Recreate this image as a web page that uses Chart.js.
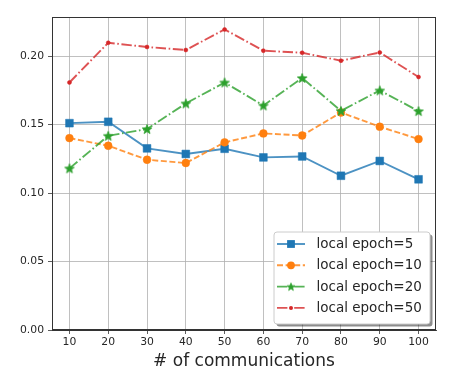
<!DOCTYPE html>
<html>
<head>
<meta charset="utf-8">
<script src="https://cdn.jsdelivr.net/npm/chart.js@4.4.0/dist/chart.umd.min.js"></script>
<style>
html,body{margin:0;padding:0;background:#fff;}
canvas{display:block;}
</style>
</head>
<body>
<canvas id="c" width="453" height="389"></canvas>
<script>
const communications = [10, 20, 30, 40, 50, 60, 70, 80, 90, 100];
const epoch5  = [0.151, 0.152, 0.1326, 0.1285, 0.1323, 0.126, 0.1267, 0.1126, 0.1234, 0.110];
const epoch10 = [0.1401, 0.1345, 0.1243, 0.1219, 0.137, 0.1435, 0.142, 0.1588, 0.1484, 0.1394];
const epoch20 = [0.118, 0.1418, 0.1467, 0.1654, 0.1807, 0.1639, 0.184, 0.160, 0.1749, 0.1598];
const epoch50 = [0.1807, 0.2097, 0.2066, 0.2044, 0.2194, 0.2039, 0.2024, 0.1966, 0.2026, 0.1847];
const seriesLabels = ['local epoch=5', 'local epoch=10', 'local epoch=20', 'local epoch=50'];
const xTicks = [10, 20, 30, 40, 50, 60, 70, 80, 90, 100];
const yTicks = [0.00, 0.05, 0.10, 0.15, 0.20];

const colors = ['#1f77b4', '#ff7f0e', '#2ca02c', '#d62728'];
const lineColors = ['rgba(31,119,180,0.8)', 'rgba(255,127,14,0.8)', 'rgba(44,160,44,0.8)', 'rgba(214,39,40,0.8)'];
const dashes = [[], [6, 2.6], [10.4, 2.6, 1.6, 2.6], [10.4, 2.6, 1.6, 2.6]];

function makeStar(color, R, r) {
  const c = document.createElement('canvas');
  const sz = Math.ceil(R * 2 + 2);
  c.width = sz; c.height = sz;
  const g = c.getContext('2d');
  const cx = sz / 2, cy = sz / 2 + R * 0.1;
  g.beginPath();
  for (let i = 0; i < 10; i++) {
    const a = -Math.PI / 2 + i * Math.PI / 5;
    const rad = i % 2 === 0 ? R : r;
    const px = cx + rad * Math.cos(a), py = cy + rad * Math.sin(a);
    if (i === 0) g.moveTo(px, py); else g.lineTo(px, py);
  }
  g.closePath();
  g.fillStyle = color; g.fill();
  g.strokeStyle = color; g.lineWidth = 0.8; g.stroke();
  return c;
}
const starImg = makeStar(colors[2], 5, 2.1);
const starLegend = makeStar(colors[2], 4, 1.7);

const pointStyles = ['rect', 'circle', starImg, 'circle'];
const pointRadii = [5.5, 3.9, 5, 2];
const allData = [epoch5, epoch10, epoch20, epoch50];

const datasets = allData.map((vals, i) => ({
  label: seriesLabels[i],
  data: vals.map((v, k) => ({x: communications[k], y: v})),
  borderColor: lineColors[i],
  borderWidth: 1.9,
  borderDash: dashes[i],
  backgroundColor: colors[i],
  pointBackgroundColor: colors[i],
  pointBorderColor: colors[i],
  pointBorderWidth: 0.5,
  pointStyle: pointStyles[i],
  pointRadius: pointRadii[i],
  pointHoverRadius: pointRadii[i],
  tension: 0,
  fill: false,
  order: 4 - i
}));

const framePlugin = {
  id: 'frameAndLegend',
  afterDraw(chart) {
    const ctx = chart.ctx;
    const a = chart.chartArea;
    ctx.save();
    ctx.strokeStyle = '#333333';
    ctx.lineWidth = 1;
    ctx.strokeRect(Math.round(a.left) + 0.5, Math.round(a.top) + 0.5, Math.round(a.right - a.left) - 1, Math.round(a.bottom - a.top) - 1);

    // legend
    const w = 156, h = 92;
    const x0 = a.right - 6 - w, y0 = a.bottom - 6 - h;
    const rr = 3;
    function rrect(x, y, ww, hh) {
      ctx.beginPath();
      ctx.moveTo(x + rr, y);
      ctx.lineTo(x + ww - rr, y); ctx.quadraticCurveTo(x + ww, y, x + ww, y + rr);
      ctx.lineTo(x + ww, y + hh - rr); ctx.quadraticCurveTo(x + ww, y + hh, x + ww - rr, y + hh);
      ctx.lineTo(x + rr, y + hh); ctx.quadraticCurveTo(x, y + hh, x, y + hh - rr);
      ctx.lineTo(x, y + rr); ctx.quadraticCurveTo(x, y, x + rr, y);
      ctx.closePath();
    }
    rrect(x0 + 2.5, y0 + 2.5, w, h);
    ctx.fillStyle = 'rgba(0,0,0,0.45)';
    ctx.fill();
    rrect(x0, y0, w, h);
    ctx.fillStyle = '#ffffff';
    ctx.fill();
    ctx.strokeStyle = '#cccccc';
    ctx.lineWidth = 1;
    ctx.stroke();

    ctx.font = '13.5px "DejaVu Sans"';
    ctx.textBaseline = 'middle';
    ctx.textAlign = 'left';
    chart.data.datasets.forEach((ds, i) => {
      const yy = y0 + 12 + i * 21.3;
      ctx.save();
      ctx.strokeStyle = ds.borderColor;
      ctx.lineWidth = ds.borderWidth;
      ctx.setLineDash(ds.borderDash);
      ctx.beginPath();
      ctx.moveTo(x0 + 3, yy);
      ctx.lineTo(x0 + 31, yy);
      ctx.stroke();
      ctx.restore();
      const mx = x0 + 17;
      ctx.fillStyle = ds.pointBackgroundColor;
      const st = ds.pointStyle;
      if (st === 'rect') {
        const s = ds.pointRadius * Math.SQRT1_2;
        ctx.fillRect(mx - s, yy - s, 2 * s, 2 * s);
      } else if (st === 'circle') {
        ctx.beginPath();
        ctx.arc(mx, yy, ds.pointRadius, 0, Math.PI * 2);
        ctx.fill();
      } else {
        ctx.drawImage(starLegend, mx - starLegend.width / 2, yy - starLegend.height / 2);
      }
      ctx.fillStyle = '#262626';
      ctx.fillText(ds.label, x0 + 42.5, yy + 0.5);
    });
    ctx.restore();
  }
};

new Chart(document.getElementById('c'), {
  type: 'line',
  data: { datasets },
  options: {
    responsive: false,
    animation: false,
    events: [],
    layout: { padding: { top: 17, right: 17, left: 0, bottom: 0 } },
    plugins: { legend: { display: false }, tooltip: { enabled: false } },
    scales: {
      x: {
        type: 'linear',
        min: 5.5,
        max: 104.5,
        afterBuildTicks: (s) => { s.ticks = xTicks.map(v => ({ value: v })); },
        afterFit: (s) => { s.height = 59; },
        ticks: {
          autoSkip: false, maxRotation: 0, minRotation: 0,
          padding: 2,
          color: '#262626',
          font: { family: 'DejaVu Sans', size: 10.8 },
          callback: (v) => String(v)
        },
        grid: { color: '#b0b0b0', lineWidth: 0.8, tickColor: '#333333', tickLength: 4, drawTicks: true },
        border: { display: true, color: '#333333', width: 1 },
        title: {
          display: true,
          text: '# of communications',
          color: '#262626',
          font: { family: 'DejaVu Sans', size: 17 },
          padding: { top: 2, bottom: 17 }
        }
      },
      y: {
        type: 'linear',
        min: 0,
        max: 0.2285,
        afterBuildTicks: (s) => { s.ticks = yTicks.map(v => ({ value: v })); },
        afterFit: (s) => { s.width = 52; },
        ticks: {
          autoSkip: false,
          padding: 4,
          color: '#262626',
          font: { family: 'DejaVu Sans', size: 10.8 },
          callback: (v) => Number(v).toFixed(2)
        },
        grid: { color: '#b0b0b0', lineWidth: 0.8, tickColor: '#333333', tickLength: 4, drawTicks: true },
        border: { display: true, color: '#333333', width: 1 }
      }
    }
  },
  plugins: [framePlugin]
});
</script>
</body>
</html>
